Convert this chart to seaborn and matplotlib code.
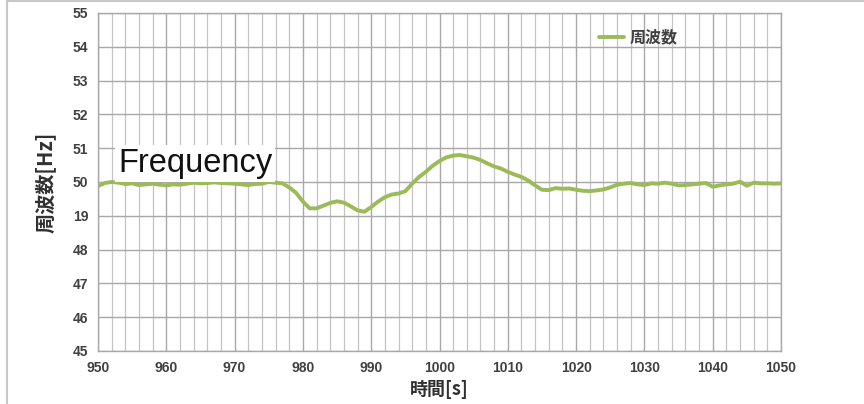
import numpy as np
import pandas as pd
import matplotlib
matplotlib.use("Agg")
import matplotlib.pyplot as plt
import seaborn as sns
from matplotlib.patches import Rectangle

# Time axis [s] and measured grid frequency [Hz], one sample per second
time_s = list(range(950, 1051))
freq_hz = [
    49.88, 49.97, 50.00, 49.98, 49.94, 49.96, 49.91, 49.93, 49.95, 49.92,  # 950-959
    49.90, 49.93, 49.92, 49.95, 49.98, 49.96, 49.97, 49.99, 49.97, 49.96,  # 960-969
    49.95, 49.93, 49.91, 49.94, 49.95, 50.00, 49.98, 49.96, 49.84, 49.68,  # 970-979
    49.42, 49.22, 49.22, 49.30, 49.38, 49.43, 49.39, 49.28, 49.16, 49.12,  # 980-989
    49.26, 49.42, 49.55, 49.63, 49.66, 49.73, 49.95, 50.15, 50.30, 50.48,  # 990-999
    50.62, 50.73, 50.78, 50.80, 50.76, 50.72, 50.65, 50.55, 50.46, 50.40,  # 1000-1009
    50.30, 50.22, 50.15, 50.04, 49.90, 49.77, 49.76, 49.82, 49.80, 49.81,  # 1010-1019
    49.77, 49.74, 49.73, 49.75, 49.78, 49.84, 49.92, 49.95, 49.97, 49.93,  # 1020-1029
    49.91, 49.96, 49.95, 49.98, 49.95, 49.90, 49.91, 49.93, 49.95, 49.97,  # 1030-1039
    49.86, 49.90, 49.93, 49.95, 50.01, 49.89, 49.98, 49.96, 49.96, 49.95,  # 1040-1049
    49.96,                                                                 # 1050
]

x_ticks = list(range(950, 1051, 10))
y_ticks = list(range(45, 56))
y_tick_labels = ["45", "46", "47", "48", "19", "50", "51", "52", "53", "54", "55"]

series_name = "周波数"
x_label = "時間[s]"
y_label = "周波数[Hz]"
overlay_text = "Frequency"

df = pd.DataFrame({"time": time_s, "freq": freq_hz, "series": series_name})

sns.set_style("white")
cjk = ["Noto Sans CJK JP", "DejaVu Sans"]
plt.rcParams["font.family"] = ["Liberation Sans", "DejaVu Sans"]

fig = plt.figure(figsize=(8.64, 4.04), dpi=100)
ax = fig.add_axes([98 / 864, 1 - 351 / 404, 683 / 864, 338 / 404])

sns.lineplot(data=df, x="time", y="freq", hue="series",
             palette=["#9BBB59"], linewidth=2.8, ax=ax, legend=True)

ax.set_xlim(950, 1050)
ax.set_ylim(45, 55)
ax.set_xticks(x_ticks)
ax.set_xticks(list(range(950, 1051, 2)), minor=True)
ax.set_yticks(y_ticks)
ax.set_yticklabels(y_tick_labels)

ax.grid(True, which="major", axis="both", color="#a8a8a8", linewidth=1.0)
ax.grid(True, which="minor", axis="x", color="#c4c4c4", linewidth=0.9)
ax.set_axisbelow(True)
for s in ax.spines.values():
    s.set_color("#a8a8a8")
    s.set_linewidth(1.0)

ax.tick_params(axis="both", which="major", direction="out", length=4,
               color="#a0a0a0", labelsize=10, labelcolor="#404040", pad=3)
ax.tick_params(axis="x", which="minor", length=0)
for lab in ax.get_xticklabels() + ax.get_yticklabels():
    lab.set_fontweight("bold")

ax.set_xlabel(x_label, family=cjk, fontsize=13, color="#303030",
              fontweight="bold", labelpad=4)
ax.set_ylabel(y_label, family=cjk, fontsize=14.5, color="#303030",
              fontweight="bold", labelpad=12)

leg = ax.legend(loc="center left", bbox_to_anchor=(0.733, 0.927),
                frameon=False, handlelength=1.6, handletextpad=0.35,
                borderpad=0, borderaxespad=0,
                prop={"family": cjk, "size": 11.5, "weight": "bold"})
for t in leg.get_texts():
    t.set_color("#404040")

# Large caption box over the plot
fig.text(118 / 864, 1 - 172 / 404, overlay_text, fontsize=23.5,
         color="#111111", ha="left", va="baseline",
         bbox=dict(facecolor="white", edgecolor="none", pad=2))

# Outer frame of the figure panel
fig.patches.append(Rectangle((7 / 864, -0.05), 1.2, 1.05 - 1.5 / 404,
                             transform=fig.transFigure, fill=False,
                             edgecolor="#c8c8c8", linewidth=1.5))

fig.savefig("out.png", dpi=100)
